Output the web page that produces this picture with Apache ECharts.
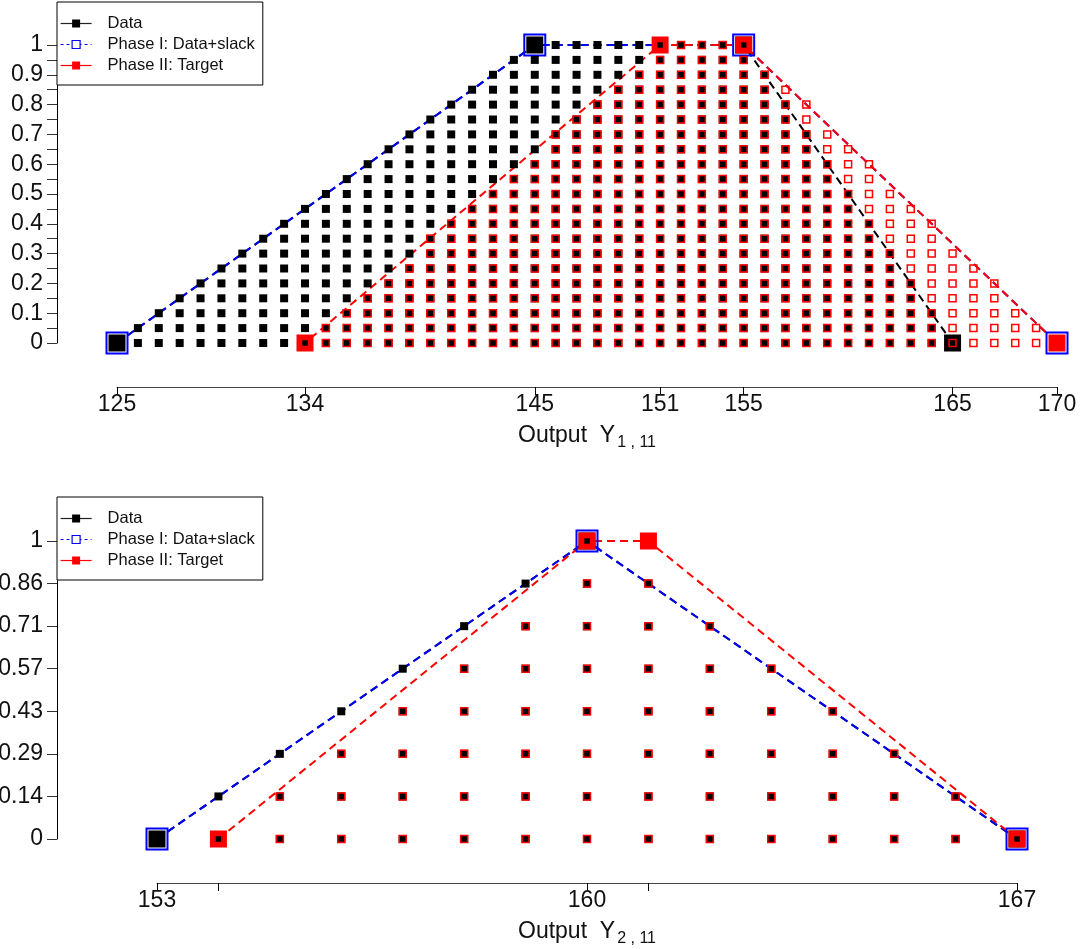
<!DOCTYPE html>
<html>
<head>
<meta charset="utf-8">
<title>Data / Phase I / Phase II</title>
<script src="https://cdn.jsdelivr.net/npm/echarts@6/dist/echarts.min.js"></script>
<style>
  html, body { margin: 0; padding: 0; background: #fff; }
  #chart { width: 1083px; height: 949px; }
</style>
</head>
<body>
<div id="chart"></div>
<script>
// ---- top panel: Output Y1,11 ----
var topXTicks = [125, 134, 145, 151, 155, 165, 170];
var topYLabels = [0, 0.1, 0.2, 0.3, 0.4, 0.5, 0.6, 0.7, 0.8, 0.9, 1];
var topYTicks = [0, 0.05, 0.1, 0.15, 0.2, 0.25, 0.3, 0.35, 0.4, 0.45, 0.5,
                 0.55, 0.6, 0.65, 0.7, 0.75, 0.8, 0.85, 0.9, 0.95, 1];
var topStep = 0.05;
// number of grid rows (in steps of 0.05) in each column
var topDataStart = 126;
var topDataLevels = [1, 2, 3, 4, 5, 6, 7, 8, 9, 10, 11, 12, 13, 14, 15, 16, 17, 18, 19, 20,
                     20, 20, 20, 20, 20, 20, 20, 20, 20, 20,
                     18, 16, 14, 12, 10, 8, 6, 4, 2, 0];
var topTargetStart = 134;
var topTargetLevels = [0, 1, 2, 3, 4, 5, 7, 8, 9, 10, 11, 12, 14, 15, 16, 17, 18, 20,
                       20, 20, 20, 20,
                       18, 17, 16, 14, 13, 12, 10, 9, 8, 6, 5, 4, 2, 1, 0];
var topDataLine = [[125, 0], [145, 1], [155, 1], [165, 0]];
var topPhase1Line = [[125, 0], [145, 1], [155, 1], [170, 0]];
var topPhase2Line = [[134, 0], [151, 1], [155, 1], [170, 0]];

// ---- bottom panel: Output Y2,11 ----
var botXTicks = [153, 154, 160, 161, 167];
var botXLabels = [153, 160, 167];
var botYTicks = [0, 1 / 7, 2 / 7, 3 / 7, 4 / 7, 5 / 7, 6 / 7, 1];
var botStep = 1 / 7;
var botDataStart = 153;
var botDataLevels = [0, 1, 2, 3, 4, 5, 6, 7, 6, 5, 4, 3, 2, 1, 0];
var botTargetStart = 154;
var botTargetLevels = [0, 1, 2, 3, 4, 5, 7, 7, 5, 4, 3, 2, 1, 0];
var botDataLine = [[153, 0], [160, 1], [167, 0]];
var botPhase1Line = [[153, 0], [160, 1], [167, 0]];
var botPhase2Line = [[154, 0], [160, 1], [161, 1], [167, 0]];

var FONT = '"Liberation Sans", Arial, Helvetica, sans-serif';
var BLUE = '#0000ff', RED = '#ff0000', BLACK = '#000000';
var DASH = [8, 5];

function columnPoints(xStart, levels, step) {
    var pts = [];
    for (var i = 0; i < levels.length; i++) {
        for (var k = 0; k <= levels[i]; k++) {
            pts.push([xStart + i, k * step]);
        }
    }
    return pts;
}

function fmt(v) {
    return String(Math.round(v * 100) / 100);
}

function xAxisOf(gridIndex, min, max, ticks, labels, sub) {
    return {
        type: 'value', gridIndex: gridIndex, min: min, max: max,
        offset: 44,
        axisLine: { show: true, onZero: false, lineStyle: { color: '#444', width: 1 } },
        axisTick: { show: true, length: 8, customValues: ticks, lineStyle: { color: '#000' } },
        axisLabel: { customValues: labels, margin: 6, fontSize: 23, color: '#111', fontFamily: FONT },
        splitLine: { show: false },
        name: '{n|Output  Y}{s|' + sub + '}',
        nameLocation: 'middle',
        nameGap: 34,
        nameTextStyle: {
            rich: {
                n: { fontSize: 23, color: '#111', fontFamily: FONT },
                s: { fontSize: 16, color: '#111', fontFamily: FONT, padding: [14, 0, 0, 2] }
            }
        }
    };
}

function yAxisOf(gridIndex, offset, ticks, labels) {
    return {
        type: 'value', gridIndex: gridIndex, min: 0, max: 1,
        offset: offset,
        axisLine: { show: true, onZero: false, lineStyle: { color: '#000', width: 1 } },
        axisTick: { show: true, length: 10, customValues: ticks, lineStyle: { color: '#333' } },
        axisLabel: { customValues: labels, margin: 14, fontSize: 23, color: '#111', fontFamily: FONT, formatter: fmt },
        splitLine: { show: false }
    };
}

function lineSeries(idx, data, color) {
    return {
        type: 'line', name: 'line' + idx + color, xAxisIndex: idx, yAxisIndex: idx,
        data: data, symbol: 'none', clip: false, silent: true, z: 1,
        lineStyle: { color: color, width: 2, type: DASH, dashOffset: 0 }
    };
}

function markSeries(idx, data, size, style, z) {
    style.opacity = 1;
    return {
        type: 'scatter', xAxisIndex: idx, yAxisIndex: idx, data: data,
        symbol: 'rect', symbolSize: size, clip: false, silent: true, z: z,
        itemStyle: style
    };
}

function panelSeries(idx, dataLine, p1Line, p2Line, dataStart, dataLevels, tgStart, tgLevels, step) {
    return [
        lineSeries(idx, dataLine, BLACK),
        lineSeries(idx, p1Line, BLUE),
        lineSeries(idx, p2Line, RED),
        markSeries(idx, dataLine, 17, { color: BLACK }, 3),
        markSeries(idx, p2Line, 17, { color: RED }, 4),
        markSeries(idx, p1Line, 21, { color: 'rgba(0,0,0,0)', borderColor: BLUE, borderWidth: 2 }, 4),
        markSeries(idx, columnPoints(dataStart, dataLevels, step), 8, { color: BLACK }, 5),
        markSeries(idx, columnPoints(tgStart, tgLevels, step), 7,
            { color: 'rgba(0,0,0,0)', borderColor: RED, borderWidth: 1.5 }, 6)
    ];
}

var legendNames = ['Data', 'Phase I: Data+slack', 'Phase II: Target'];

function legendOf(top) {
    return {
        orient: 'vertical', left: 57, top: top,
        backgroundColor: '#fff', borderColor: '#000', borderWidth: 1, borderRadius: 0,
        padding: [13, 8, 11, 3],
        itemWidth: 31, itemHeight: 10, itemGap: 4,
        selectedMode: false, z: 10,
        textStyle: { fontSize: 16.5, color: '#111', fontFamily: FONT, padding: [0, 0, 0, 11] },
        data: [
            { name: legendNames[0], itemStyle: { color: BLACK, borderWidth: 0 },
              lineStyle: { color: '#222', width: 1.2, type: 'solid' } },
            { name: legendNames[1], itemStyle: { color: '#fff', borderColor: BLUE, borderWidth: 1.2 },
              lineStyle: { color: BLUE, width: 1, type: [3, 3] } },
            { name: legendNames[2], itemStyle: { color: RED, borderWidth: 0 },
              lineStyle: { color: RED, width: 1.2, type: 'solid' } }
        ]
    };
}

// empty series only to feed the legends
var legendSeries = legendNames.map(function (n) {
    return { type: 'line', name: n, data: [], symbol: 'rect', xAxisIndex: 0, yAxisIndex: 0 };
});

var topSeries = panelSeries(0, topDataLine, topPhase1Line, topPhase2Line,
    topDataStart, topDataLevels, topTargetStart, topTargetLevels, topStep);
var botSeries = panelSeries(1, botDataLine, botPhase1Line, botPhase2Line,
    botDataStart, botDataLevels, botTargetStart, botTargetLevels, botStep);
var series = legendSeries.concat(topSeries).concat(botSeries);

var chart = echarts.init(document.getElementById('chart'));
var option = {
    animation: false,
    backgroundColor: '#fff',
    textStyle: { fontFamily: FONT },
    grid: [
        { left: 117, right: 26, top: 45, height: 298, outerBoundsMode: 'none', containLabel: false },
        { left: 157, right: 66, top: 541, height: 298, outerBoundsMode: 'none', containLabel: false }
    ],
    legend: [legendOf(2), legendOf(497)],
    xAxis: [
        xAxisOf(0, 125, 170, topXTicks, topXTicks, '1 , 11'),
        xAxisOf(1, 153, 167, botXTicks, botXLabels, '2 , 11')
    ],
    yAxis: [
        yAxisOf(0, 60, topYTicks, topYLabels),
        yAxisOf(1, 100, botYTicks, botYTicks)
    ],
    series: series
};
chart.setOption(option);

// line the red dashes up with the blue ones where the two paths share the last segment
function pixelLength(gridIndex, pts) {
    var len = 0;
    for (var i = 1; i < pts.length; i++) {
        var a = chart.convertToPixel({ gridIndex: gridIndex }, pts[i - 1]);
        var b = chart.convertToPixel({ gridIndex: gridIndex }, pts[i]);
        len += Math.sqrt((b[0] - a[0]) * (b[0] - a[0]) + (b[1] - a[1]) * (b[1] - a[1]));
    }
    return len;
}
var period = DASH[0] + DASH[1];
var shift = pixelLength(0, topPhase1Line.slice(0, 3)) - pixelLength(0, topPhase2Line.slice(0, 3));
topSeries[2].lineStyle.dashOffset = ((shift % period) + period) % period;
chart.setOption(option);
</script>
</body>
</html>
